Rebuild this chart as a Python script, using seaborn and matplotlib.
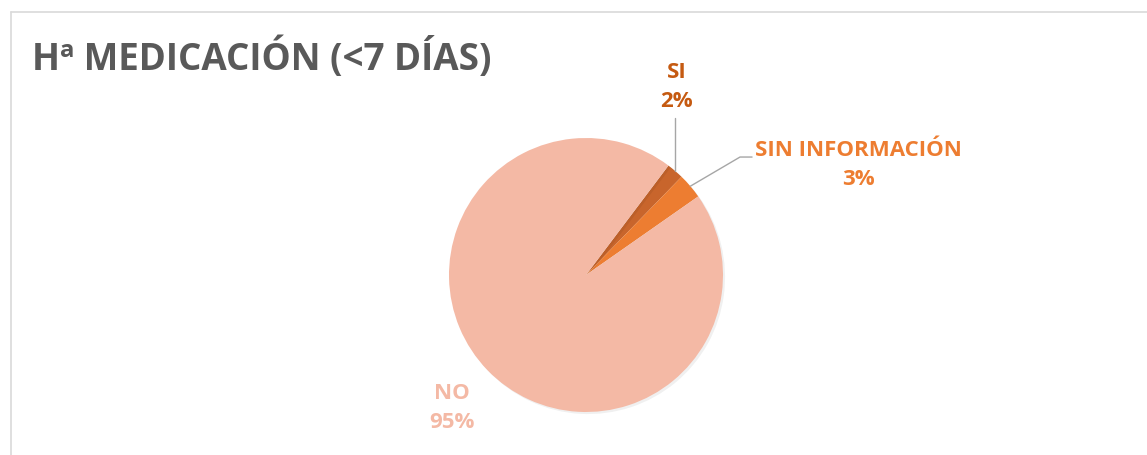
import numpy as np
import seaborn as sns
import matplotlib.pyplot as plt
from matplotlib.lines import Line2D
import matplotlib.patheffects as pe

# Data
categories = ["SI", "SIN INFORMACIÓN", "NO"]
values = [2, 3, 95]
slice_colors = ["#C8652C", "#ED7D31", "#F4B9A5"]
label_colors = ["#C55A11", "#ED7D31", "#F4B9A5"]

sns.set_theme(style="white")
plt.rcParams['font.family'] = ['Open Sans', 'DejaVu Sans']

fig = plt.figure(figsize=(11.47, 4.55), dpi=100)

# Chart frame (top and left edge only visible)
fig.add_artist(Line2D([11 / 1147, 1], [1 - 12 / 455, 1 - 12 / 455], color="#D9D9D9", lw=1.2))
fig.add_artist(Line2D([11 / 1147, 11 / 1147], [0, 1 - 12 / 455], color="#D9D9D9", lw=1.2))

fig.text(32 / 1147, 1 - 58 / 455, "Hª MEDICACIÓN (<7 DÍAS)", fontsize=26.5,
         fontweight="bold", color="#595959", va="center", ha="left")

# Pie axes
r_px = 137
cx, cy = 586, 275
ax = fig.add_axes([(cx - r_px) / 1147, (455 - cy - r_px) / 455, 2 * r_px / 1147, 2 * r_px / 455])
wedges, _ = ax.pie(values, colors=slice_colors, startangle=53, counterclock=False,
                   wedgeprops=dict(linewidth=0))
for w in wedges:
    w.set_path_effects([pe.SimplePatchShadow(offset=(1.5, -1.5), alpha=0.06, shadow_rgbFace="black"),
                        pe.Normal()])
ax.set_xlim(-1, 1)
ax.set_ylim(-1, 1)
ax.set_aspect("auto")
ax.axis("off")

# Labels
label_pos = [(0.664, 1.372), (1.985, 0.803), (-0.978, -0.971)]
for w, name, v, col, (lx, ly) in zip(wedges, categories, values, label_colors, label_pos):
    ax.text(lx, ly, f"{name}\n{v}%", ha="center", va="center", fontsize=16,
            fontweight="bold", color=col, linespacing=1.45, clip_on=False)

# Leader lines from wedge edges
def edge_point(w):
    ang = np.deg2rad((w.theta1 + w.theta2) / 2)
    return np.cos(ang), np.sin(ang)

sx, sy = edge_point(wedges[0])
ax.plot([sx, sx], [sy, 1.146], color="#A6A6A6", lw=1, clip_on=False)
sx, sy = edge_point(wedges[1])
ax.plot([sx, 1.124, 1.212], [sy, 0.861, 0.861], color="#A6A6A6", lw=1, clip_on=False)

fig.savefig("out.png", dpi=100)
